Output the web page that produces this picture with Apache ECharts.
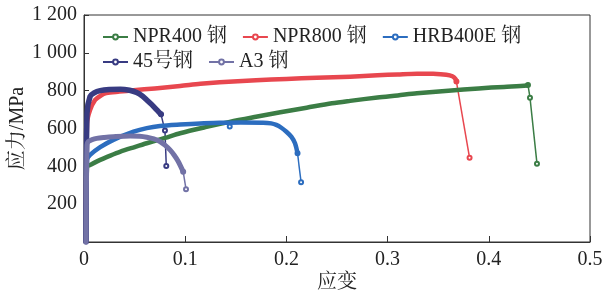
<!DOCTYPE html>
<html>
<head>
<meta charset="utf-8">
<script src="https://cdn.jsdelivr.net/npm/echarts@6/dist/echarts.min.js"></script>
<style>html,body{margin:0;padding:0;background:#fff;}#c{width:605px;height:294px;}</style>
</head>
<body>
<div id="c"></div>
<script>
// ---- data (strain, stress MPa) ----
var seriesNames = ['NPR400 钢', 'NPR800 钢', 'HRB400E 钢', '45号钢', 'A3 钢'];
var xTicks = ['0', '0.1', '0.2', '0.3', '0.4', '0.5'];
var yTicks = ['', '200', '400', '600', '800', '1 000', '1 200'];

var npr400Main = [[0.002,0],[0.003,398],[0.006,407],[0.016,434],[0.026,457],[0.036,478],[0.05,502],[0.062,522],[0.08,550],[0.095,575],[0.12,607],[0.144,635],[0.17,662],[0.194,686],[0.22,710],[0.245,733],[0.263,746],[0.29,764],[0.31,775],[0.329,786],[0.36,800],[0.39,812],[0.415,820],[0.4375,827],[0.4387,830]];
var npr400Drop = [[0.4387,830],[0.4407,763],[0.4476,414]];

var npr800Main = [[0.002,0],[0.003,628],[0.006,698],[0.011,751],[0.016,772],[0.022,787],[0.035,795],[0.049,802],[0.07,812],[0.095,825],[0.115,837],[0.134,845],[0.17,855],[0.2,862],[0.23,868],[0.263,874],[0.29,881],[0.31,886],[0.329,890],[0.345,889],[0.358,884],[0.364,876],[0.367,862],[0.368,848]];
var npr800Drop = [[0.368,848],[0.381,445]];

var hrbMain = [[0.002,0],[0.003,434],[0.006,460],[0.016,501],[0.029,540],[0.049,583],[0.062,602],[0.075,613],[0.095,621],[0.115,627],[0.134,630],[0.155,632],[0.177,631],[0.185,627],[0.19,619],[0.195,604],[0.2,583],[0.205,556],[0.2085,522],[0.211,469]];
var hrbDrop = [[0.211,469],[0.2145,316]];
var hrbLoose = [[0.144,610]];

var s45Main = [[0.002,0],[0.003,681],[0.006,769],[0.01,788],[0.016,800],[0.025,806],[0.036,808],[0.045,802],[0.052,790],[0.058,770],[0.062,751],[0.067,726],[0.072,698],[0.0761,675]];
var s45Drop = [[0.0761,675],[0.080,589],[0.0813,402]];

var a3Main = [[0.002,0],[0.003,512],[0.0043,531],[0.008,541],[0.0125,548],[0.02,553],[0.029,557],[0.0455,561],[0.055,559],[0.062,554],[0.069,545],[0.075,531],[0.08,512],[0.085,487],[0.089,460],[0.093,427],[0.098,372]];
var a3Drop = [[0.098,372],[0.1008,279]];

var colors = ['#3b7d45', '#e8474f', '#2c6dbf', '#383b82', '#7272a6'];
var mains = [npr400Main, npr800Main, hrbMain, s45Main, a3Main];
var drops = [npr400Drop, npr800Drop, hrbDrop, s45Drop, a3Drop];
var mainWidths = [4.5, 4.5, 4.5, 5.5, 5];

var FONT = '"Liberation Serif", "Times New Roman", "Noto Serif CJK SC", "Noto Sans CJK SC", serif';

var series = [];
seriesNames.forEach(function (n, i) {
  series.push({
    name: n, type: 'line', data: drops[i],
    symbol: 'emptyCircle', symbolSize: 4, showAllSymbol: true,
    lineStyle: { width: 1.5, color: colors[i] },
    itemStyle: { color: colors[i], borderWidth: 1.2 },
    animation: false, z: 2
  });
});
seriesNames.forEach(function (n, i) {
  series.push({
    name: n, type: 'line', data: mains[i], symbol: 'none', smooth: 0.3,
    lineStyle: { width: mainWidths[i], color: colors[i], cap: 'round', join: 'round' },
    itemStyle: { color: colors[i] },
    animation: false, z: 3
  });
});
series.push({
  name: 'HRB400E 钢', type: 'line', data: hrbLoose,
  symbol: 'emptyCircle', symbolSize: 4,
  lineStyle: { width: 0 }, itemStyle: { color: colors[2], borderWidth: 1.2 },
  animation: false, z: 4
});

var chart = echarts.init(document.getElementById('c'), null, { renderer: 'canvas' });
chart.setOption({
  backgroundColor: '#fff',
  animation: false,
  grid: { left: 84, right: 15, top: 15, bottom: 52, containLabel: false, outerBoundsMode: 'none',
    show: true, borderColor: '#333', borderWidth: 1, backgroundColor: 'transparent' },
  legend: [
    { data: seriesNames.slice(0, 3), left: 97, top: 22, itemWidth: 25, itemHeight: 6, itemGap: 15,
      textStyle: { fontFamily: FONT, fontSize: 20, color: '#222' } },
    { data: seriesNames.slice(3), left: 97, top: 47, itemWidth: 25, itemHeight: 6, itemGap: 15,
      textStyle: { fontFamily: FONT, fontSize: 20, color: '#222' } }
  ],
  xAxis: {
    type: 'value', min: 0, max: 0.5, interval: 0.1,
    name: '应变', nameLocation: 'middle', nameGap: 31, nameMoveOverlap: false,
    nameTextStyle: { fontFamily: FONT, fontSize: 20, color: '#222' },
    axisLine: { show: true, onZero: false, lineStyle: { color: '#333', width: 1 } },
    axisTick: { show: true, inside: true, length: 6, lineStyle: { color: '#333' } },
    axisLabel: { fontFamily: FONT, fontSize: 20, color: '#222', margin: 8,
      formatter: function (v) { return xTicks[Math.round(v * 10)]; } },
    splitLine: { show: false }
  },
  yAxis: {
    type: 'value', min: 0, max: 1200, interval: 200,
    name: '应力/MPa', nameLocation: 'middle', nameGap: 56, nameRotate: 90, nameMoveOverlap: false,
    nameTextStyle: { fontFamily: FONT, fontSize: 20, color: '#222' },
    axisLine: { show: true, lineStyle: { color: '#333', width: 1 } },
    axisTick: { show: true, inside: true, length: 5, lineStyle: { color: '#333' } },
    axisLabel: { fontFamily: FONT, fontSize: 20, color: '#222', margin: 7,
      formatter: function (v) { return yTicks[Math.round(v / 200)]; } },
    splitLine: { show: false }
  },
  series: series
});
</script>
</body>
</html>
